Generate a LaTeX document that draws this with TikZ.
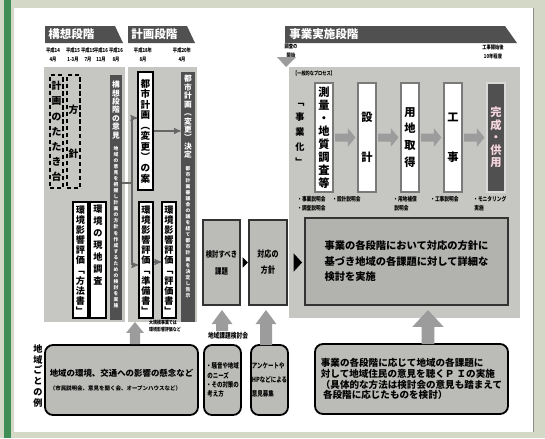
\documentclass[tikz,border=0pt]{standalone}
\usepackage{fontspec}
\setmainfont{Noto Sans CJK JP}
\newfontfamily\narrow{Noto Sans CJK JP}[FakeStretch=0.78]
\usetikzlibrary{arrows,calc,positioning}

\definecolor{outerbg}{HTML}{D3D9C6}
\definecolor{greenline}{HTML}{3E8E55}
\definecolor{regiongray}{HTML}{C6C6C3}
\definecolor{boxgray}{HTML}{BBBBB8}
\definecolor{stripdark}{HTML}{505050}
\definecolor{blockgray}{HTML}{9C9C9C}
\definecolor{framegray}{HTML}{7A7A7A}
\definecolor{pinkish}{HTML}{F6D6DE}

\makeatletter
\newcommand\vstack[1]{\def\vs@out{}\def\vs@sep{}%
  \@tfor\vs@ch:=#1\do{%
    \edef\vs@out{\unexpanded\expandafter{\vs@out}\unexpanded\expandafter{\vs@sep}\unexpanded\expandafter{\vs@ch}}%
    \def\vs@sep{\\}}%
  \vs@out}
\makeatother

% gray block arrows
\newcommand\upblock[5]{\fill[blockgray] let \p1=(#1), \p2=(#2) in
  (\x1-#3,\y1) -- (\x1-#3,\y2-#5) -- (\x1-#4,\y2-#5) -- (\x1,\y2)
  -- (\x1+#4,\y2-#5) -- (\x1+#3,\y2-#5) -- (\x1+#3,\y1) -- cycle;}
\newcommand\rightblock[2]{\fill[blockgray] let \p1=(#1.east), \p2=(#2.west) in
  (\x1+0.3mm,\y1+1mm) -- (\x2-2.3mm,\y1+1mm) -- (\x2-2.3mm,\y1+2.3mm) -- (\x2-0.4mm,\y1)
  -- (\x2-2.3mm,\y1-2.3mm) -- (\x2-2.3mm,\y1-1mm) -- (\x1+0.3mm,\y1-1mm) -- cycle;}

\begin{document}
\begin{tikzpicture}[x=0.25mm,y=-0.25mm,>=stealth',node distance=10.75mm,
  wh/.style 2 args={minimum width=#1*0.25mm,minimum height=#2*0.25mm},
  region/.style={fill=regiongray,inner sep=0pt,outer sep=0pt},
  header/.style={text=white,font=\bfseries\fontsize{8.2}{9}\selectfont,inner sep=0pt},
  date/.style={align=center,inner sep=0pt,font=\narrow\bfseries\fontsize{3.9}{6.5}\selectfont},
  dashbox/.style={draw=black,densely dashed,line width=0.9pt,inner sep=0pt},
  wbox/.style={draw=black,fill=white,line width=1pt,inner sep=0pt},
  darkstrip/.style={fill=stripdark,inner sep=0pt},
  vtext/.style={align=center,inner sep=0pt},
  gbox/.style={draw=black!80,fill=boxgray,line width=0.9pt,inner sep=0pt,align=center},
  roundbox/.style={draw=black,fill=boxgray,line width=1.3pt,rounded corners=2mm,inner sep=0pt},
  proc/.style={draw=framegray,fill=white,line width=1.3pt,inner sep=0pt,wh={18}{109},
    align=center,font=\bfseries\fontsize{8}{9.3}\selectfont},
  small/.style={align=left,inner sep=0pt,font=\narrow\bfseries\fontsize{4.3}{6.2}\selectfont},
  gline/.style={draw=black!60,line width=0.8pt}]

  % frame
  \fill[outerbg] (0,0) rectangle (545,438);
  \fill[white] (14,8) rectangle (533,432);
  \fill[greenline] (4,0) rectangle (11,438);
  \draw[black!45,line width=0.5pt] (533,8) -- (533,432);

  % stage headers
  \fill[stripdark] (45,26) -- (115,26) -- (123,43) -- (45,43) -- cycle;
  \node[header,anchor=west] (h1) at (48,34.5) {構想段階};
  \fill[stripdark] (128,26) -- (187,26) -- (195,43) -- (128,43) -- cycle;
  \node[header,anchor=west] (h2) at (131,34.5) {計画段階};
  \fill[stripdark] (285,26) -- (505,26) -- (517,43) -- (285,43) -- cycle;
  \node[header,anchor=west] (h3) at (289,34.5) {事業実施段階};

  % dates
  \node[date] (d1) at (53,55) {平成14\\4月};
  \node[date] (d2) at (73,55) {平成15\\1-3月};
  \node[date] (d3) at (88,55) {平成15\\7月};
  \node[date] (d4) at (101,55) {平成16\\11月};
  \node[date] (d5) at (116,55) {平成16\\8月};
  \node[date] (d6) at (143,55) {平成18年\\8月};
  \node[date] (d7) at (182,55) {平成20年\\4月};
  \node[date] (d8) at (291,51) {調査の\\開始};
  \fill[blockgray] (277,57) -- (296,57) -- (286,67) -- cycle;
  \node[date] (d9) at (493,52) {工事開始後\\10年程度};

  % gray areas
  \node[region,wh={81}{255}] (g1) at (84.5,194.5) {};
  \node[region,wh={69}{255}] (g2) at (162.5,194.5) {};
  \node[region,wh={231}{251}] (g3) at (404.5,192.5) {};

  % concept stage
  \node[dashbox,wh={13}{113}] (tataki) at (56.5,131.5) {};
  \node[vtext,font=\bfseries\fontsize{7}{10.8}\selectfont] (tataki-t) at (tataki) {\vstack{計画のたたき台}};
  \node[dashbox,wh={13}{113}] (houshin) at (73.5,131.5) {};
  \node[vtext,font=\bfseries\fontsize{7}{31}\selectfont] (houshin-t) at (houshin) {方\\針};
  \node[darkstrip,wh={12}{245}] (kousou) at (116,197.5) {};
  \node[vtext,text=white,font=\bfseries\fontsize{5.5}{6}\selectfont] (kousou-t) at (116,110) {\vstack{構想段階の意見}};
  \node[vtext,text=white,anchor=north,font=\bfseries\fontsize{3.4}{4.3}\selectfont] (kousou-s) at (116,146)
    {\vstack{地域の意見を把握し計画の方針を作成するための検討を実施}};
  \node[wbox,wh={15}{116}] (hoho) at (80.5,260) {};
  \node[vtext,font=\bfseries\fontsize{6.5}{7.2}\selectfont] (hoho-t) at (hoho) {\vstack{環境影響評価﹁方法書﹂}};
  \node[wbox,wh={16}{116}] (genchi) at (98,260) {};
  \node[vtext,anchor=north,font=\bfseries\fontsize{6.5}{8.5}\selectfont] (genchi-t) at (98,205) {\vstack{環境の現地調査}};

  % planning stage
  \node[wbox,wh={15}{118}] (toshian) at (145.5,131) {};
  \node[vtext,font=\bfseries\fontsize{6.8}{7.5}\selectfont] (toshian-t) at (toshian) {\vstack{都市計画︵変更︶の案}};
  \node[darkstrip,wh={14}{250}] (kettei) at (188,197) {};
  \node[vtext,text=white,font=\bfseries\fontsize{5.5}{6}\selectfont] (kettei-t) at (188,117) {\vstack{都市計画︵変更︶決定}};
  \node[vtext,text=white,anchor=north,font=\bfseries\fontsize{3.4}{4.3}\selectfont] (kettei-s) at (188,166)
    {\vstack{都市計画審議会の議を経て都市計画を決定し告示}};
  \node[wbox,wh={14}{116}] (junbi) at (146,260) {};
  \node[vtext,font=\bfseries\fontsize{6.5}{7.2}\selectfont] (junbi-t) at (junbi) {\vstack{環境影響評価﹁準備書﹂}};
  \node[wbox,wh={14}{116}] (hyouka) at (169,260) {};
  \node[vtext,font=\bfseries\fontsize{6.5}{7.2}\selectfont] (hyouka-t) at (hyouka) {\vstack{環境影響評価﹁評価書﹂}};

  \coordinate (jn) at (132,183);
  \coordinate (jtop) at (132,118);
  \coordinate (jbot) at (132,265);
  \draw[gline] (kousou.east |- jn) -- (jn);
  \draw[gline,->] (jbot) -- (jtop) -- (toshian.west |- jtop);
  \draw[gline,->] (jbot) -- (junbi.west |- jbot);
  \draw[gline,->] (toshian.east |- 0,131) -- (kettei.west |- 0,131);
  \draw[gline,->] (junbi.east |- 0,262) -- (hyouka.west |- 0,262);

  % issues and policy
  \node[gbox,wh={37}{85},font=\narrow\bfseries\fontsize{5.8}{12}\selectfont] (kadai) at (221.5,262.5) {検討すべき\\課題};
  \node[gbox,wh={38}{85},font=\narrow\bfseries\fontsize{6.4}{11.4}\selectfont] (taiou) at (268,262.5) {対応の\\方針};
  \fill[black] ([xshift=0.5mm]kadai.east) ++(0,1.3mm) -- ++(1.3mm,-1.3mm) -- ++(-1.3mm,-1.3mm) -- cycle;
  \fill[black] ([xshift=1.5mm]taiou.east) ++(0,2.3mm) -- ++(2.1mm,-2.3mm) -- ++(-2.1mm,-2.3mm) -- cycle;

  % implementation stage
  \node[small,font=\narrow\bfseries\fontsize{3.8}{4}\selectfont] (ippan) at (314,73) {【一般的なプロセス】};
  \node[vtext,font=\bfseries\fontsize{6.5}{10.7}\selectfont] (jigyouka) at (300,134) {\vstack{﹁事業化﹂}};
  \node[proc] (p1) at (324,137.5) {\vstack{測量・地質調査等}};
  \node[proc,font=\bfseries\fontsize{8}{28.4}\selectfont] (p2) [right of=p1] {設\\計};
  \node[proc,font=\bfseries\fontsize{8}{12}\selectfont] (p3) [right of=p2] {\vstack{用地取得}};
  \node[proc,font=\bfseries\fontsize{8}{28.4}\selectfont] (p4) [right of=p3] {工\\事};
  \node[proc,fill=stripdark,draw=white!85!black,text=pinkish,font=\bfseries\fontsize{8}{8.9}\selectfont] (p5) [right of=p4] {\vstack{完成・供用}};
  \rightblock{p1}{p2}
  \rightblock{p2}{p3}
  \rightblock{p3}{p4}
  \rightblock{p4}{p5}
  \node[small,anchor=north west] (m1) at (297,196) {・事業説明会\\・調査説明会};
  \node[small,anchor=north west] (m2) at (332,196) {・設計説明会};
  \node[small,anchor=north west] (m3) at (393,196) {・用地補償\\\ 説明会};
  \node[small,anchor=north west] (m4) at (430,196) {・工事説明会};
  \node[small,anchor=north west] (m5) at (473,196) {・モニタリング\\\ 実施};
  \node[gbox,wh={203}{87},fill=regiongray!90!black,align=left,font=\bfseries\fontsize{7.3}{11}\selectfont] (detail) at (406.5,261.5)
    {事業の各段階において対応の方針に\\基づき地域の各課題に対して詳細な\\検討を実施};

  % opinions of each area
  \node[vtext,font=\bfseries\fontsize{6.5}{7.8}\selectfont] (rei) at (38,376) {\vstack{地域ごとの例}};
  \node[roundbox,wh={153}{70}] (b1) at (121.5,380) {};
  \node[small,font=\bfseries\fontsize{6}{10}\selectfont] (b1-t) at (b1) {地域の環境、交通への影響の懸念など\\{\fontsize{3.9}{5}\selectfont （市民説明会、意見を聞く会、オープンハウスなど）}};
  \node[roundbox,wh={37}{70}] (b2) at (222.5,380) {};
  \node[small,font=\narrow\bfseries\fontsize{5}{6.6}\selectfont] (b2-t) at (b2) {・騒音や地域\\\ のニーズ\\・その対策の\\\ 考え方};
  \node[roundbox,wh={37}{70}] (b3) at (269.5,380) {};
  \node[small,font=\narrow\bfseries\fontsize{5}{10}\selectfont] (b3-t) at (b3) {アンケートや\\HPなどによる\\意見募集};
  \node[roundbox,wh={193}{70}] (b4) at (411.5,379) {};
  \node[small,font=\bfseries\fontsize{6.8}{7.6}\selectfont] (b4-t) at (b4) {事業の各段階に応じて地域の各課題に\\対して地域住民の意見を聴くＰ Ｉの実施\\（具体的な方法は検討会の意見も踏まえて\\\ 各段階に応じたものを検討）};
  \node[small,font=\narrow\bfseries\fontsize{3.6}{5}\selectfont] (daikibo) at (165,326) {大規模事業では\\環境影響評価など};
  \node[small,font=\narrow\bfseries\fontsize{5.2}{6}\selectfont] (kentoukai) at (228,336) {地域課題検討会};

  % upward block arrows
  \coordinate (ua1b) at (135,344);  \coordinate (ua1t) at (135,322);
  \coordinate (ua2b) at (222,331);  \coordinate (ua2t) at (222,310);
  \coordinate (ua3b) at (266,345);  \coordinate (ua3t) at (266,310);
  \coordinate (ua4b) at (428,344);  \coordinate (ua4t) at (428,310);
  \upblock{ua1b}{ua1t}{1.3mm}{2.2mm}{2.7mm}
  \upblock{ua2b}{ua2t}{1.5mm}{2.6mm}{3.5mm}
  \upblock{ua3b}{ua3t}{1.5mm}{2.6mm}{3.5mm}
  \upblock{ua4b}{ua4t}{1.6mm}{3.9mm}{4.2mm}
\end{tikzpicture}
\end{document}
